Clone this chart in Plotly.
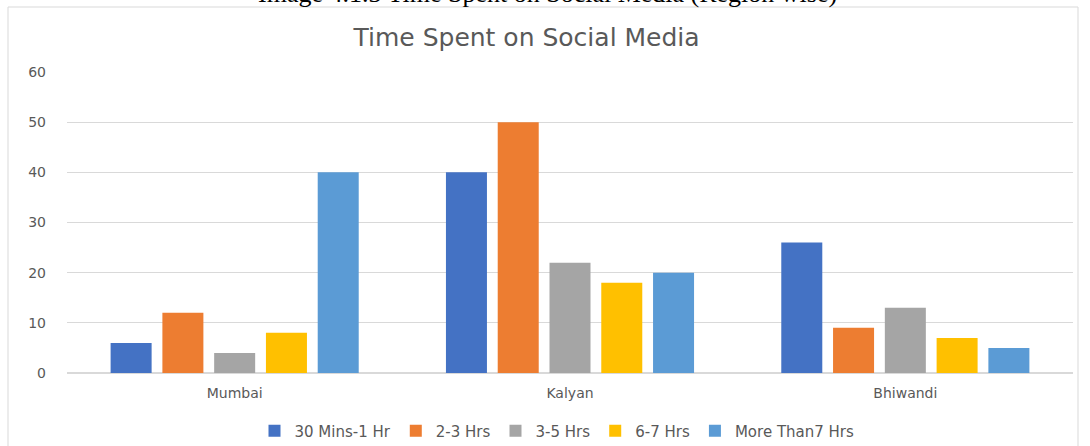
import plotly.graph_objects as go

regions = ["Mumbai", "Kalyan", "Bhiwandi"]
series_names = ["30 Mins-1 Hr", "2-3 Hrs", "3-5 Hrs", "6-7 Hrs", "More Than7 Hrs"]
v_30min_1hr = [6, 40, 26]
v_2_3hrs = [12, 50, 9]
v_3_5hrs = [4, 22, 13]
v_6_7hrs = [8, 18, 7]
v_more7 = [40, 20, 5]
colors = ["#4472C4", "#ED7D31", "#A5A5A5", "#FFC000", "#5B9BD5"]
y_ticks = [0, 10, 20, 30, 40, 50, 60]

values = [v_30min_1hr, v_2_3hrs, v_3_5hrs, v_6_7hrs, v_more7]

W, H = 1090, 446
ml, mr, mt, mb = 67, 17, 72, 73
pw = W - ml - mr
ph = H - mt - mb

def px_x(px):
    return (px - ml) / pw

def px_y(py):
    return (H - mb - py) / ph

fig = go.Figure()
for name, vals, col in zip(series_names, values, colors):
    fig.add_trace(go.Bar(x=regions, y=vals, name=name, marker=dict(color=col, line=dict(width=0))))

fig.update_layout(
    width=W, height=H,
    margin=dict(l=ml, r=mr, t=mt, b=mb, autoexpand=False),
    paper_bgcolor="white", plot_bgcolor="white",
    barmode="group", bargap=0.228, bargroupgap=0.208,
    font=dict(family="DejaVu Sans", color="#7F7F7F", size=14),
    showlegend=True,
    legend=dict(orientation="h", x=px_x(557), xanchor="center", y=px_y(431), yanchor="middle",
                font=dict(family="DejaVu Sans", size=15, color="#595959"),
                itemwidth=30, traceorder="normal", tracegroupgap=0),
    title=dict(text="Time Spent on Social Media", x=px_x(553), xanchor="center",
               y=1 - 37 / H, yanchor="middle",
               font=dict(family="DejaVu Sans", size=25, color="#595959")),
)
fig.update_xaxes(showgrid=False, showline=False, ticks="", ticklabelstandoff=10,
                 tickfont=dict(family="DejaVu Sans", size=14, color="#595959"))
fig.update_yaxes(range=[0, 60], tickvals=y_ticks, showgrid=True, gridcolor="#D9D9D9",
                 gridwidth=1, zeroline=True, zerolinecolor="#D9D9D9", showline=False,
                 ticks="", ticklabelstandoff=20,
                 tickfont=dict(family="DejaVu Sans", size=14, color="#595959"))

# outer chart frame
fig.add_shape(type="rect", xref="paper", yref="paper",
              x0=px_x(8), x1=px_x(1078), y0=px_y(460), y1=px_y(7),
              line=dict(color="#D9D9D9", width=1), fillcolor="rgba(0,0,0,0)", layer="below")

# caption above the chart (clipped at the top edge as in the source image)
fig.add_annotation(text="Image 4.1.3 Time Spent on Social Media (Region wise)",
                   xref="paper", yref="paper", x=px_x(547), y=px_y(10),
                   xanchor="center", yanchor="bottom", showarrow=False,
                   font=dict(family="Liberation Serif", size=26, color="#000000"))

fig.write_html("out.html")
